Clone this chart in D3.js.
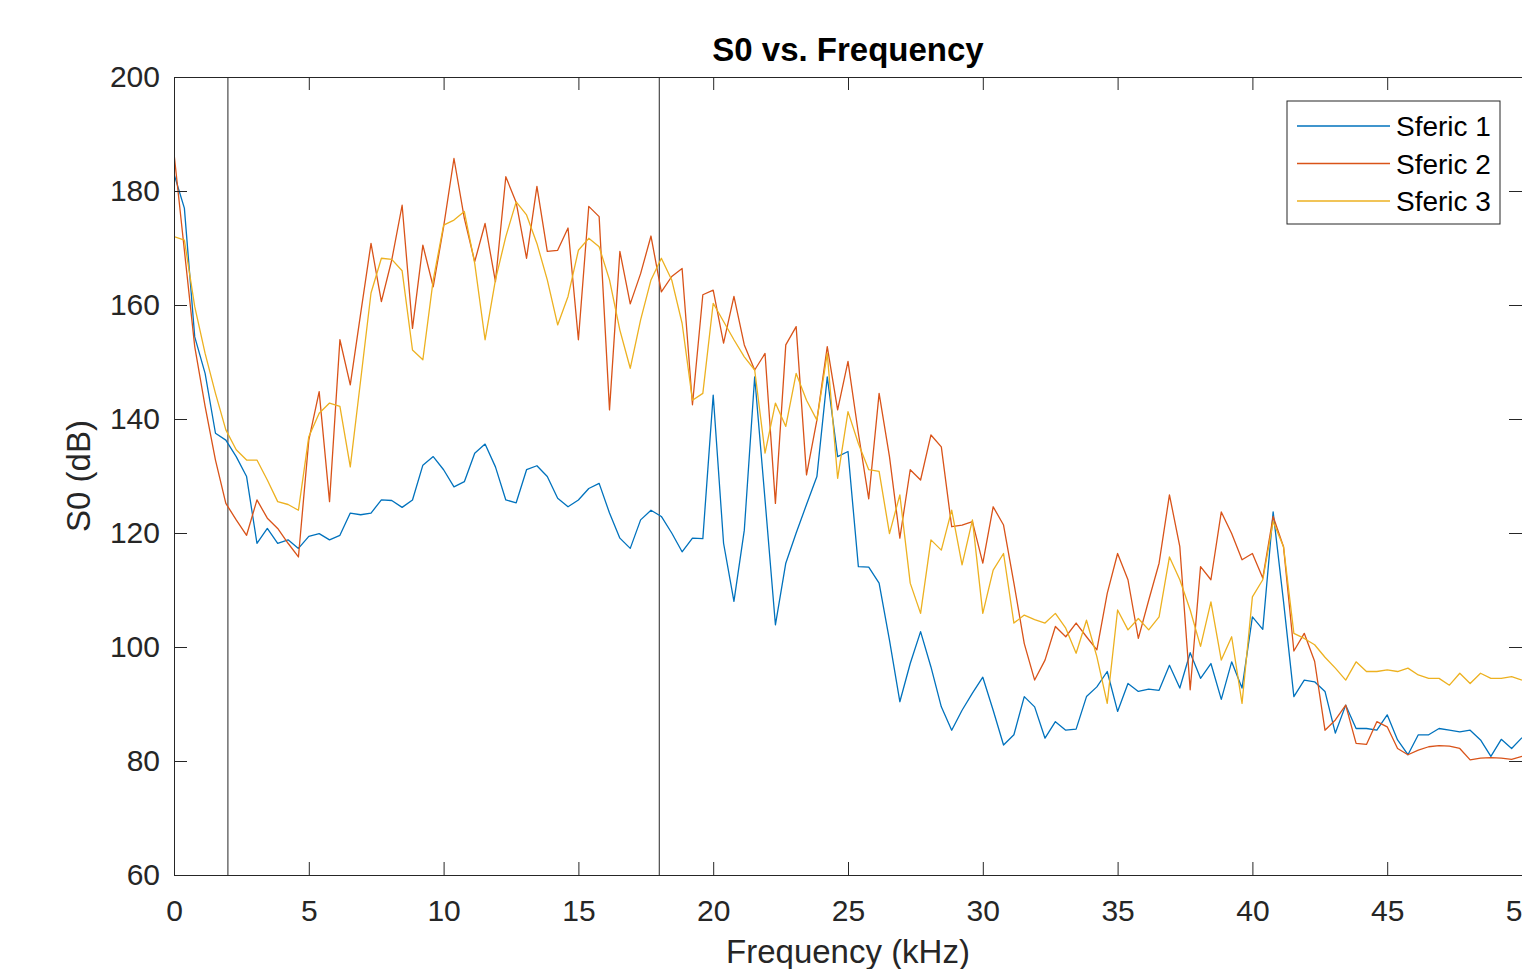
<!DOCTYPE html>
<html>
<head>
<meta charset="utf-8">
<script src="https://cdn.jsdelivr.net/npm/d3@7"></script>
<style>
  body { margin: 0; background: #fff; overflow: hidden; }
  svg { display: block; font-family: "Liberation Sans", Arial, sans-serif; }
</style>
</head>
<body>
<script>
// S0 spectra of three sferics (dB)
const sferic1 = [183, 177, 154.4, 148, 137.5, 136.3, 133.4, 129.9, 118.2, 120.8,
  118.2, 118.8, 117.3, 119.4, 119.9, 118.8, 119.6, 123.5, 123.2, 123.5,
  125.8, 125.7, 124.5, 125.8, 131.9, 133.4, 131.1, 128.1, 129, 134,
  135.6, 131.6, 125.8, 125.3, 131.1, 131.8, 129.9, 126.1, 124.6, 125.8,
  127.8, 128.7, 123.5, 119.1, 117.3, 122.3, 124, 122.9, 120, 116.7,
  119.1, 119, 144.2, 118.2, 108, 120.5, 147.4, 125.8, 103.9, 114.7,
  120, 125, 129.9, 147.4, 133.4, 134.3, 114.1, 114, 111.2, 101.2,
  90.4, 97.1, 102.7, 96.5, 89.5, 85.4, 88.9, 91.9, 94.7, 88.9,
  82.8, 84.6, 91.3, 89.5, 84, 86.9, 85.4, 85.6, 91.3, 93,
  95.7, 88.7, 93.6, 92.2, 92.6, 92.4, 96.8, 92.8, 99, 94.5,
  97.1, 90.8, 97.4, 92.8, 105.3, 103.1, 123.7, 108, 91.3, 94.2,
  93.9, 92.2, 84.9, 89.8, 85.7, 85.7, 85.4, 88.1, 83.7, 81.1,
  84.6, 84.6, 85.7, 85.4, 85.1, 85.4, 83.7, 80.8, 83.8, 82.2, 84.1];

const sferic2 = [186.6, 169.6, 152.7, 142.2, 132.8, 125.2, 122.3, 119.6, 125.8, 122.6,
  120.8, 118.2, 115.8, 136.3, 144.8, 125.5, 153.9, 146, 158.5, 170.8,
  160.6, 167.9, 177.5, 155.9, 170.5, 163.2, 173.7, 185.7, 175.2, 167.6,
  174.3, 164.1, 182.5, 178, 168.2, 180.8, 169.4, 169.6, 173.5, 153.9,
  177.3, 175.5, 141.6, 169.4, 160.2, 165.5, 172.1, 162.3, 165, 166.4,
  142.5, 161.8, 162.6, 153.3, 161.5, 153, 148.6, 151.5, 125.2, 153,
  156.2, 130.2, 139.8, 152.7, 141.6, 150.1, 137.5, 126, 144.5, 133.4,
  119.1, 131.1, 129.3, 137.2, 135.1, 121.1, 121.4, 122, 114.7, 124.6,
  121.4, 111.2, 100.6, 94.2, 97.7, 103.6, 101.8, 104.2, 101.8, 99.5,
  109.4, 116.4, 111.8, 101.5, 108.2, 114.7, 126.7, 117.6, 92.5, 114.1,
  111.8, 123.7, 119.9, 115.3, 116.4, 112.1, 122.9, 117.6, 99.3, 102.4,
  97.5, 85.4, 87.2, 89.8, 83.1, 82.9, 86.9, 86, 82.2, 81.1,
  81.9, 82.5, 82.7, 82.6, 82.2, 80.2, 80.5, 80.6, 80.5, 80.3, 80.8];

const sferic3 = [172, 171.4, 159.7, 151.5, 144.5, 138.1, 134.6, 132.8, 132.8, 129.3,
  125.5, 125, 124, 136.9, 141, 142.8, 142.2, 131.6, 146.8, 162.1,
  168.2, 168, 166, 152.1, 150.4, 164.4, 174, 174.9, 176.4, 167.3,
  153.9, 164.4, 172, 178.1, 175.8, 170.8, 164.4, 156.5, 161.5, 169.6,
  171.7, 170.2, 164.4, 155.6, 148.9, 157.4, 164.4, 168.2, 164.4, 156.8,
  143.3, 144.5, 160.3, 157.1, 153.9, 150.9, 148.6, 134, 142.8, 138.7,
  148, 143.3, 139.8, 151.5, 129.6, 141.3, 135.7, 131.1, 130.8, 119.9,
  126.7, 111.2, 105.9, 118.8, 117, 124, 114.4, 122.3, 105.9, 113.5,
  116.4, 104.2, 105.6, 104.8, 104.2, 105.9, 103.3, 98.9, 104.7, 98.3,
  90.1, 106.5, 103, 105, 103, 105.3, 115.8, 111.8, 106.5, 100.1,
  107.9, 97.7, 101.8, 90.1, 108.8, 111.8, 122, 117.6, 102.4, 101.5,
  100.4, 98.2, 96.3, 94.2, 97.4, 95.7, 95.7, 96, 95.7, 96.3,
  95.1, 94.5, 94.5, 93.3, 95.4, 93.6, 95.4, 94.5, 94.5, 94.8, 94.2];

// frequency grid (kHz), one bin per sample from 0 to 50
const freqKHz = sferic1.map((_, i) => i * 50 / (sferic1.length - 1));

const seriesNames = ["Sferic 1", "Sferic 2", "Sferic 3"];
const seriesColors = ["#0072BD", "#D95319", "#EDB120"];
const markerLines = [2, 18];      // vertical reference lines (kHz)
const xTicks = [0, 5, 10, 15, 20, 25, 30, 35, 40, 45, 50];
const yTicks = [60, 80, 100, 120, 140, 160, 180, 200];

const W = 1522, H = 969;
const plotL = 174, plotT = 77, plotR = 1522, plotB = 875;
const axisColor = "#262626";

const svg = d3.select("body").append("svg")
  .attr("width", W)
  .attr("height", H);

const x = d3.scaleLinear().domain([0, 50]).range([plotL, plotR]);
const y = d3.scaleLinear().domain([60, 200]).range([plotB, plotT]);

svg.append("defs").append("clipPath").attr("id", "plot")
  .append("rect")
  .attr("x", plotL).attr("y", plotT)
  .attr("width", plotR - plotL).attr("height", plotB - plotT);

// vertical lines
svg.append("g").selectAll("line")
  .data(markerLines)
  .enter()
  .append("line")
  .attr("x1", d => x(d)).attr("x2", d => x(d))
  .attr("y1", plotT).attr("y2", plotB)
  .attr("stroke", "#262626")
  .attr("stroke-width", 1);

// data lines
const line = d3.line()
  .x((d, i) => x(freqKHz[i]))
  .y(d => y(d));

const allSeries = [sferic1, sferic2, sferic3];
svg.append("g").attr("clip-path", "url(#plot)")
  .selectAll("path")
  .data(allSeries)
  .enter()
  .append("path")
  .attr("d", d => line(d))
  .attr("fill", "none")
  .attr("stroke", (d, i) => seriesColors[i])
  .attr("stroke-width", 1.3)
  .attr("stroke-linejoin", "round");

// axes, ticks point inward on all four sides
function styleAxis(g) {
  g.select(".domain").attr("stroke", axisColor);
  g.selectAll(".tick line").attr("stroke", axisColor);
  g.selectAll(".tick text")
    .attr("fill", axisColor)
    .attr("font-size", "30px")
    .attr("font-family", "Liberation Sans, Arial, sans-serif");
}

svg.append("g")
  .attr("transform", `translate(0,${plotB})`)
  .call(d3.axisBottom(x).tickValues(xTicks).tickSizeInner(-13).tickSizeOuter(0).tickPadding(25).tickFormat(d3.format("d")))
  .call(styleAxis);

svg.append("g")
  .attr("transform", `translate(0,${plotT})`)
  .call(d3.axisTop(x).tickValues(xTicks).tickSizeInner(-13).tickSizeOuter(0).tickFormat(""))
  .call(styleAxis);

svg.append("g")
  .attr("transform", `translate(${plotL},0)`)
  .call(d3.axisLeft(y).tickValues(yTicks).tickSizeInner(-13).tickSizeOuter(0).tickPadding(14).tickFormat(d3.format("d")))
  .call(styleAxis);

svg.append("g")
  .attr("transform", `translate(${plotR},0)`)
  .call(d3.axisRight(y).tickValues(yTicks).tickSizeInner(-13).tickSizeOuter(0).tickFormat(""))
  .call(styleAxis);

// title and labels
svg.append("text")
  .attr("x", (plotL + plotR) / 2).attr("y", 61)
  .attr("text-anchor", "middle")
  .attr("font-size", "33px")
  .attr("font-weight", "bold")
  .attr("fill", "#000")
  .text("S0 vs. Frequency");

svg.append("text")
  .attr("x", (plotL + plotR) / 2).attr("y", 963)
  .attr("text-anchor", "middle")
  .attr("font-size", "33px")
  .attr("fill", axisColor)
  .text("Frequency (kHz)");

svg.append("text")
  .attr("transform", `translate(90,${(plotT + plotB) / 2}) rotate(-90)`)
  .attr("text-anchor", "middle")
  .attr("font-size", "33px")
  .attr("fill", axisColor)
  .text("S0 (dB)");

// legend
const legend = svg.append("g").attr("transform", "translate(1287,101)");
legend.append("rect")
  .attr("width", 213).attr("height", 123)
  .attr("fill", "#fff")
  .attr("stroke", axisColor)
  .attr("stroke-width", 1);

const entries = legend.selectAll("g.entry")
  .data(seriesNames)
  .enter()
  .append("g")
  .attr("class", "entry")
  .attr("transform", (d, i) => `translate(0,${25 + i * 37.5})`);

entries.append("line")
  .attr("x1", 10).attr("x2", 103)
  .attr("stroke", (d, i) => seriesColors[i])
  .attr("stroke-width", 1.3);

entries.append("text")
  .attr("x", 109).attr("y", 10)
  .attr("font-size", "28px")
  .attr("fill", "#000")
  .text(d => d);
</script>
</body>
</html>
